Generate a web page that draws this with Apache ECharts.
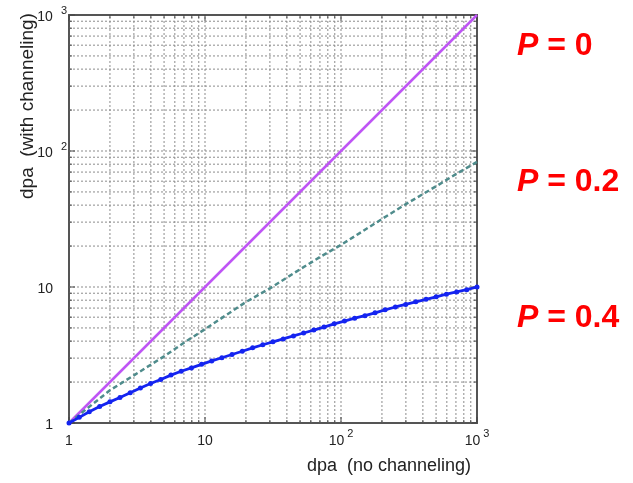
<!DOCTYPE html>
<html>
<head>
<meta charset="utf-8">
<script src="https://cdn.jsdelivr.net/npm/echarts@6/dist/echarts.min.js"></script>
<style>
html,body{margin:0;padding:0;background:#fff;}
#c{width:633px;height:483px;}
</style>
</head>
<body>
<div id="c"></div>
<script>
// ---- data ----
const p0X = [1, 1000];
const p0Y = [1, 1000];

const p02X = [1, 2, 3, 5, 7, 10, 20, 30, 50, 70, 100, 200, 300, 500, 700, 1000];
const p02Y = [1, 1.74, 2.24, 3.09, 3.89, 4.9, 7.76, 9.77, 13.5, 16.6, 20.4, 31.6, 40.7, 55.0, 67.6, 83.2];

const p04X = [1, 1.19, 1.41, 1.68, 2, 2.37, 2.82, 3.35, 3.98, 4.73, 5.62, 6.68, 7.94, 9.44, 11.2, 13.3, 15.8, 18.8, 22.4, 26.6, 31.6, 37.6, 44.7, 53.1, 63.1, 75, 89.1, 106, 126, 150, 178, 211, 251, 299, 355, 422, 501, 596, 708, 841, 1000];
const p04Y = [1, 1.10, 1.21, 1.32, 1.43, 1.54, 1.67, 1.81, 1.95, 2.09, 2.25, 2.40, 2.54, 2.70, 2.86, 3.02, 3.19, 3.37, 3.57, 3.76, 3.95, 4.15, 4.37, 4.59, 4.82, 5.07, 5.36, 5.62, 5.90, 6.15, 6.46, 6.79, 7.13, 7.45, 7.78, 8.11, 8.47, 8.85, 9.20, 9.55, 10.0];

const gridVals = [1,2,3,4,5,6,7,8,9,10,20,30,40,50,60,70,80,90,100,200,300,400,500,600,700,800,900,1000];
const majorVals = [1, 10, 100, 1000];
const tickLabels = {1: ['1', ''], 10: ['10', ''], 100: ['10', '2'], 1000: ['10', '3']};

const xName = 'dpa  (no channeling)';
const yName = 'dpa  (with channeling)';
const seriesLabels = ['0', '0.2', '0.4'];

// ---- chart ----
const FONT = 'Liberation Sans, Arial, Helvetica, sans-serif';
const zip = (xs, ys) => xs.map((x, i) => [x, ys[i]]);

function xFmt(v) {
  const t = tickLabels[Math.round(v)];
  if (!t) return '';
  return t[1] ? '{b|' + t[0] + '}{s|' + t[1] + '}' : '{b|' + t[0] + '}';
}
function yFmt(v) {
  const t = tickLabels[Math.round(v)];
  if (!t) return '';
  return t[1] ? '{b|' + t[0] + '}{s|' + t[1] + '}' : '{b|' + t[0] + '}{p|}';
}
const richX = {
  b: {fontSize: 14, fontFamily: FONT, color: '#222', verticalAlign: 'bottom', padding: [6, 0, 0, 0]},
  s: {fontSize: 11, fontFamily: FONT, color: '#222', verticalAlign: 'top', padding: [0, 0, 0, 3]}
};
const richY = {
  b: {fontSize: 14, fontFamily: FONT, color: '#222', verticalAlign: 'bottom', padding: [5, 0, 0, 0]},
  s: {fontSize: 11, fontFamily: FONT, color: '#222', verticalAlign: 'top', padding: [0, 0, 0, 8]},
  p: {width: 14}
};

const chart = echarts.init(document.getElementById('c'), null, {renderer: 'canvas'});

function gridRender(params, api) {
  const v = api.value(0);
  const major = majorVals.indexOf(v) >= 0;
  const L = major ? 6 : 3;
  const pb = api.coord([v, 1]), pt = api.coord([v, 1000]);
  const ql = api.coord([1, v]), qr = api.coord([1000, v]);
  const dot = {stroke: '#8c8c8c', lineWidth: 1, lineDash: [2, 2]};
  const tk = {stroke: '#444', lineWidth: 1};
  const ch = [];
  if (v !== 1 && v !== 1000) {
    ch.push({type: 'line', shape: {x1: pb[0], y1: pb[1], x2: pt[0], y2: pt[1]}, style: dot});
    ch.push({type: 'line', shape: {x1: ql[0], y1: ql[1], x2: qr[0], y2: qr[1]}, style: dot});
  }
  ch.push({type: 'line', shape: {x1: pb[0], y1: pb[1], x2: pb[0], y2: pb[1] - L}, style: tk});
  ch.push({type: 'line', shape: {x1: pt[0], y1: pt[1], x2: pt[0], y2: pt[1] + L}, style: tk});
  ch.push({type: 'line', shape: {x1: ql[0], y1: ql[1], x2: ql[0] + L, y2: ql[1]}, style: tk});
  ch.push({type: 'line', shape: {x1: qr[0], y1: qr[1], x2: qr[0] - L, y2: qr[1]}, style: tk});
  return {type: 'group', children: ch};
}

function pText(label, y) {
  return {
    type: 'text', left: 517, top: y - 18, z: 10,
    style: {
      text: '{i|P}{n| = ' + label + '}',
      rich: {
        i: {fontSize: 32, fontWeight: 'bold', fontStyle: 'italic', fontFamily: FONT, fill: '#ff0000'},
        n: {fontSize: 32, fontWeight: 'bold', fontFamily: FONT, fill: '#ff0000'}
      }
    }
  };
}

chart.setOption({
  animation: false,
  backgroundColor: '#fff',
  grid: {left: 69, top: 15, width: 408, height: 408, show: true, borderColor: '#555', borderWidth: 2, backgroundColor: 'transparent'},
  xAxis: {
    type: 'log', logBase: 10, min: 1, max: 1000,
    axisLine: {show: false}, axisTick: {show: false}, splitLine: {show: false},
    axisLabel: {formatter: xFmt, rich: richX, margin: 5, showMinLabel: true, showMaxLabel: true}
  },
  yAxis: {
    type: 'log', logBase: 10, min: 1, max: 1000,
    axisLine: {show: false}, axisTick: {show: false}, splitLine: {show: false},
    axisLabel: {formatter: yFmt, rich: richY, margin: 2, showMinLabel: true, showMaxLabel: true}
  },
  graphic: [
    {type: 'text', left: 307, top: 457, style: {text: xName, fontSize: 18, fontFamily: FONT, fill: '#222'}},
    {type: 'text', x: 28, y: 106, rotation: Math.PI / 2,
      style: {text: yName, fontSize: 19, fontFamily: FONT, fill: '#222', align: 'center', verticalAlign: 'middle'}},
    pText(seriesLabels[0], 48),
    pText(seriesLabels[1], 184),
    pText(seriesLabels[2], 320)
  ],
  series: [
    {type: 'custom', renderItem: gridRender, data: gridVals.map(v => [v, v]), encode: {x: 0, y: 1}, silent: true, z: 1, clip: false},
    {type: 'line', data: zip(p0X, p0Y), showSymbol: false, lineStyle: {color: '#bf55f5', width: 2.5}, itemStyle: {color: '#bf55f5'}, z: 3},
    {type: 'line', data: zip(p02X, p02Y), showSymbol: false, lineStyle: {color: '#4f8c8c', width: 2.5, type: [5, 3]}, itemStyle: {color: '#4f8c8c'}, z: 3},
    {type: 'line', data: zip(p04X, p04Y), showSymbol: true, symbol: 'circle', symbolSize: 5, lineStyle: {color: '#1424f0', width: 2.8}, itemStyle: {color: '#1424f0'}, z: 4}
  ]
});
</script>
</body>
</html>
